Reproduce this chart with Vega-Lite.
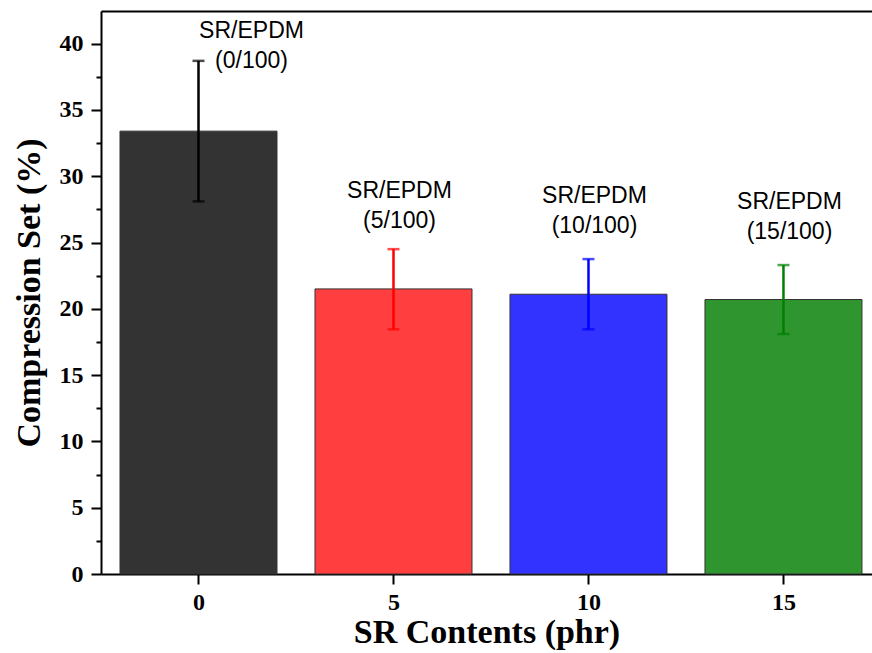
{
  "$schema": "https://vega.github.io/schema/vega-lite/v6.json",
  "width": 771,
  "height": 563,
  "autosize": {"type": "none"},
  "padding": {"left": 101, "top": 11, "right": 0, "bottom": 79},
  "background": "white",
  "config": {
    "view": {"stroke": null},
    "axis": {
      "labelFont": "Liberation Serif",
      "labelFontWeight": "bold",
      "labelFontSize": 24,
      "labelColor": "black",
      "titleFont": "Liberation Serif",
      "titleFontWeight": "bold",
      "titleFontSize": 34,
      "titleColor": "black",
      "domainColor": "black",
      "domainWidth": 2,
      "tickColor": "black",
      "tickWidth": 2,
      "grid": false
    }
  },
  "data": {
    "values": [
      {"cat": 0, "value": 33.4, "low": 28.1, "high": 38.7, "label": "SR/EPDM\n(0/100)"},
      {"cat": 5, "value": 21.5, "low": 18.45, "high": 24.5, "label": "SR/EPDM\n(5/100)"},
      {"cat": 10, "value": 21.1, "low": 18.45, "high": 23.75, "label": "SR/EPDM\n(10/100)"},
      {"cat": 15, "value": 20.7, "low": 18.1, "high": 23.3, "label": "SR/EPDM\n(15/100)"}
    ]
  },
  "layer": [
    {
      "mark": {"type": "bar", "size": 157, "stroke": "#333333", "strokeWidth": 1},
      "encoding": {
        "x": {
          "field": "cat", "type": "quantitative",
          "scale": {"domain": [-2.5, 17.27], "nice": false, "zero": false, "padding": 0},
          "axis": {
            "orient": "bottom",
            "values": [0, 5, 10, 15],
            "title": "SR Contents (phr)",
            "tickSize": 10,
            "labelPadding": 6,
            "titlePadding": 1
          }
        },
        "y": {
          "field": "value", "type": "quantitative",
          "scale": {"domain": [0, 42.46], "nice": false, "padding": 0},
          "axis": {
            "values": [0, 2.5, 5, 7.5, 10, 12.5, 15, 17.5, 20, 22.5, 25, 27.5, 30, 32.5, 35, 37.5, 40],
            "labelExpr": "datum.value % 5 === 0 ? datum.label : ''",
            "tickSize": {"condition": {"test": "datum.value % 5 === 0", "value": 10}, "value": 5},
            "labelPadding": 8,
            "title": "Compression Set (%)",
            "titlePadding": 13
          }
        },
        "color": {
          "field": "cat", "type": "nominal",
          "scale": {"domain": [0, 5, 10, 15], "range": ["#333333", "#ff3f3f", "#3333ff", "#2f962f"]},
          "legend": null
        }
      }
    },
    {
      "mark": {"type": "errorbar", "ticks": true, "size": 12, "thickness": 2.5},
      "encoding": {
        "x": {
          "field": "cat", "type": "quantitative",
          "axis": {"orient": "top", "labels": false, "ticks": false, "title": null, "domain": true}
        },
        "y": {"field": "low", "type": "quantitative", "title": null, "axis": null},
        "y2": {"field": "high"},
        "color": {
          "field": "cat", "type": "nominal",
          "scale": {"domain": [0, 5, 10, 15], "range": ["#000000", "#ff0000", "#0000ff", "#008000"]},
          "legend": null
        }
      }
    },
    {
      "transform": [{"filter": "datum.cat === 0"}],
      "mark": {"type": "text", "font": "Liberation Sans", "fontSize": 23, "lineBreak": "\n", "lineHeight": 30, "align": "center", "baseline": "bottom", "dx": 53, "dy": -88, "color": "black"},
      "encoding": {
        "x": {"field": "cat", "type": "quantitative", "axis": null},
        "y": {"field": "value", "type": "quantitative", "axis": null},
        "text": {"field": "label"}
      }
    },
    {
      "transform": [{"filter": "datum.cat !== 0"}],
      "mark": {"type": "text", "font": "Liberation Sans", "fontSize": 23, "lineBreak": "\n", "lineHeight": 30, "align": "center", "baseline": "bottom", "dx": 6, "dy": -86, "color": "black"},
      "encoding": {
        "x": {"field": "cat", "type": "quantitative", "axis": null},
        "y": {"field": "value", "type": "quantitative", "axis": null},
        "text": {"field": "label"}
      }
    }
  ],
  "resolve": {"scale": {"color": "independent"}, "axis": {"x": "independent", "y": "independent"}}
}
